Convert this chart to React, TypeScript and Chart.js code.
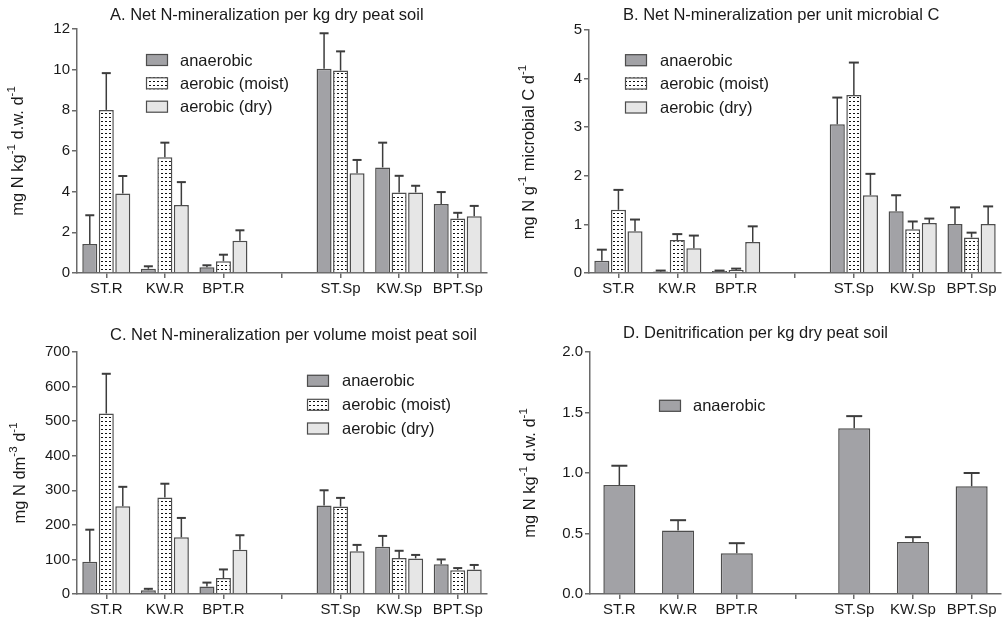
import React, { useEffect, useRef } from 'react';
import { Chart, registerables } from 'chart.js';
Chart.register(...registerables);

// ---------- data ----------
const categories = ['ST.R', 'KW.R', 'BPT.R', '', 'ST.Sp', 'KW.Sp', 'BPT.Sp'];
const seriesNames = ['anaerobic', 'aerobic (moist)', 'aerobic (dry)'];

// A. Net N-mineralization per kg dry peat soil
const aAnaerobic = [1.43, 0.21, 0.28, null, 10.04, 5.19, 3.39];
const aAnaerobicErr = [1.41, 0.12, 0.10, null, 1.75, 1.22, 0.59];
const aMoist = [8.02, 5.69, 0.58, null, 9.96, 3.96, 2.68];
const aMoistErr = [1.81, 0.72, 0.32, null, 0.94, 0.82, 0.28];
const aDry = [3.91, 3.34, 1.58, null, 4.90, 3.96, 2.79];
const aDryErr = [0.86, 1.13, 0.52, null, 0.66, 0.33, 0.51];

// B. Net N-mineralization per unit microbial C
const bAnaerobic = [0.25, 0.03, 0.04, null, 3.06, 1.27, 1.01];
const bAnaerobicErr = [0.23, 0.02, 0.01, null, 0.55, 0.33, 0.34];
const bMoist = [1.30, 0.68, 0.06, null, 3.66, 0.90, 0.73];
const bMoistErr = [0.41, 0.12, 0.03, null, 0.67, 0.16, 0.10];
const bDry = [0.86, 0.51, 0.64, null, 1.60, 1.03, 1.01];
const bDryErr = [0.24, 0.26, 0.32, null, 0.44, 0.09, 0.36];

// C. Net N-mineralization per volume moist peat soil
const cAnaerobic = [93, 11, 22, null, 256, 137, 86];
const cAnaerobicErr = [93, 4, 11, null, 44, 31, 14];
const cMoist = [522, 279, 46, null, 253, 104, 69];
const cMoistErr = [115, 40, 25, null, 25, 21, 6];
const cDry = [254, 164, 128, null, 124, 103, 71];
const cDryErr = [56, 56, 42, null, 18, 10, 13];

// D. Denitrification per kg dry peat soil
const dAnaerobic = [0.90, 0.525, 0.336, null, 1.37, 0.43, 0.89];
const dAnaerobicErr = [0.16, 0.085, 0.084, null, 0.10, 0.04, 0.11];

// axis ranges / tick labels
const yTicksA = [0, 2, 4, 6, 8, 10, 12];
const yTicksB = [0, 1, 2, 3, 4, 5];
const yTicksC = [0, 100, 200, 300, 400, 500, 600, 700];
const yTicksD = ['0.0', '0.5', '1.0', '1.5', '2.0'];

// ---------- styles ----------
const FONT = '"Liberation Sans", Arial, Helvetica, sans-serif';
const TEXT = '#1a1a1a';
const AXIS = '#6a6a6a';
const BORDER = '#4d4d4d';
const ERR = '#3c3c3c';
const C_AN = '#a2a2a6';
const C_DRY = '#e6e6e6';
const X_AXIS_H = 30;

type Part = { t: string; sup?: boolean };

function makePattern(): CanvasPattern {
  const c = document.createElement('canvas');
  c.width = 4;
  c.height = 4;
  const g = c.getContext('2d')!;
  g.fillStyle = '#ffffff';
  g.fillRect(0, 0, 4, 4);
  g.fillStyle = '#111111';
  g.fillRect(1, 1, 2, 1);
  return g.createPattern(c, 'repeat')!;
}

function decoPlugin(spec: any) {
  return {
    id: 'deco',
    afterDatasetsDraw(chart: any) {
      const ctx = chart.ctx as CanvasRenderingContext2D;
      const ys = chart.scales.y;
      spec.series.forEach((s: any, di: number) => {
        const meta = chart.getDatasetMeta(di);
        meta.data.forEach((el: any, j: number) => {
          const v = s.values[j];
          const e = s.errors[j];
          if (v == null || e == null) return;
          const top = ys.getPixelForValue(v + e);
          const x = el.x;
          ctx.save();
          ctx.strokeStyle = ERR;
          ctx.lineWidth = 1.5;
          ctx.beginPath();
          ctx.moveTo(x, el.y);
          ctx.lineTo(x, top);
          ctx.stroke();
          ctx.lineWidth = 2;
          ctx.beginPath();
          ctx.moveTo(x - spec.cap / 2, top);
          ctx.lineTo(x + spec.cap / 2, top);
          ctx.stroke();
          ctx.restore();
        });
      });
    },
    afterDraw(chart: any) {
      const ctx = chart.ctx as CanvasRenderingContext2D;
      ctx.save();
      // title
      ctx.fillStyle = TEXT;
      ctx.font = `16.5px ${FONT}`;
      ctx.textBaseline = 'middle';
      ctx.textAlign = 'left';
      ctx.fillText(spec.title, spec.titleX, spec.titleY);

      // y axis title with superscripts
      const parts: Part[] = spec.yTitle;
      const big = `16.5px ${FONT}`;
      const small = `11.5px ${FONT}`;
      let total = 0;
      parts.forEach((p) => {
        ctx.font = p.sup ? small : big;
        total += ctx.measureText(p.t).width;
      });
      ctx.save();
      ctx.translate(spec.yTitleX, spec.yTitleY);
      ctx.rotate(-Math.PI / 2);
      ctx.textAlign = 'left';
      ctx.textBaseline = 'alphabetic';
      let cx = -total / 2;
      parts.forEach((p) => {
        ctx.font = p.sup ? small : big;
        ctx.fillText(p.t, cx, p.sup ? -2 : 6);
        cx += ctx.measureText(p.t).width;
      });
      ctx.restore();

      // legend
      ctx.textAlign = 'left';
      ctx.textBaseline = 'middle';
      ctx.font = `16.5px ${FONT}`;
      spec.series.forEach((s: any, i: number) => {
        const ds = chart.data.datasets[i];
        const cy = spec.legendY[i];
        ctx.fillStyle = ds.backgroundColor;
        ctx.fillRect(spec.legendX, cy - 6, 22, 12);
        ctx.strokeStyle = BORDER;
        ctx.lineWidth = 1.2;
        ctx.strokeRect(spec.legendX + 0.5, cy - 5.5, 21, 11);
        ctx.fillStyle = TEXT;
        ctx.fillText(s.name, spec.legendTextX, cy + 1);
      });
      ctx.restore();
    },
  };
}

function Panel({ spec }: { spec: any }) {
  const ref = useRef<HTMLCanvasElement>(null);
  useEffect(() => {
    const canvas = ref.current!;
    const pattern = makePattern();
    const fills: any[] = [C_AN, pattern, C_DRY];
    const datasets = spec.series.map((s: any) => ({
      label: s.name,
      data: s.values,
      backgroundColor: fills[s.style],
      borderColor: BORDER,
      borderWidth: 1.5,
      borderSkipped: 'start',
      categoryPercentage: spec.catPct,
      barPercentage: spec.barPct,
    }));
    const chart = new Chart(canvas, {
      type: 'bar',
      data: { labels: categories, datasets },
      options: {
        responsive: false,
        animation: false,
        devicePixelRatio: 1,
        layout: {
          padding: {
            left: 0,
            top: spec.area.top,
            right: spec.w - spec.area.right,
            bottom: spec.h - spec.area.bottom - X_AXIS_H,
          },
        },
        plugins: {
          legend: { display: false },
          tooltip: { enabled: false },
          title: { display: false },
        },
        scales: {
          x: {
            type: 'category',
            offset: true,
            grid: {
              display: true,
              offset: false,
              drawOnChartArea: false,
              drawTicks: true,
              tickLength: 5,
              color: AXIS,
              lineWidth: 1.5,
            },
            border: { display: true, color: AXIS, width: 1.5 },
            ticks: {
              font: { family: FONT, size: 15 },
              color: TEXT,
              padding: 2,
              autoSkip: false,
              maxRotation: 0,
              minRotation: 0,
            },
            afterFit: (s: any) => {
              s.height = X_AXIS_H;
            },
          },
          y: {
            type: 'linear',
            min: spec.yMin,
            max: spec.yMax,
            grid: {
              display: true,
              drawOnChartArea: false,
              drawTicks: true,
              tickLength: 5,
              color: AXIS,
              lineWidth: 1.5,
            },
            border: { display: true, color: AXIS, width: 1.5 },
            ticks: {
              stepSize: spec.yStep,
              font: { family: FONT, size: 15 },
              color: TEXT,
              padding: 2,
              callback: (v: any, i: number) => spec.yLabels[i] ?? String(v),
            },
            afterFit: (s: any) => {
              s.width = spec.area.left;
            },
          },
        },
      },
      plugins: [decoPlugin(spec)],
    } as any);
    return () => chart.destroy();
  }, []);
  return (
    <canvas
      ref={ref}
      width={spec.w}
      height={spec.h}
      style={{ position: 'absolute', left: spec.x, top: spec.y, width: spec.w, height: spec.h }}
    />
  );
}

const panelA = {
  x: 0, y: 0, w: 500, h: 310,
  area: { left: 77, top: 29, right: 487, bottom: 273 },
  yMin: 0, yMax: 12, yStep: 2, yLabels: yTicksA.map(String),
  catPct: 0.845, barPct: 0.91, cap: 9,
  title: 'A. Net N-mineralization per kg dry peat soil', titleX: 110, titleY: 15,
  yTitle: [{ t: 'mg N kg' }, { t: '-1', sup: true }, { t: ' d.w. d' }, { t: '-1', sup: true }],
  yTitleX: 17, yTitleY: 151,
  legendX: 146, legendY: [60, 83.3, 106.7], legendTextX: 180,
  series: [
    { name: seriesNames[0], style: 0, values: aAnaerobic, errors: aAnaerobicErr },
    { name: seriesNames[1], style: 1, values: aMoist, errors: aMoistErr },
    { name: seriesNames[2], style: 2, values: aDry, errors: aDryErr },
  ],
};

const panelB = {
  x: 500, y: 0, w: 502, h: 310,
  area: { left: 89, top: 30, right: 501, bottom: 273 },
  yMin: 0, yMax: 5, yStep: 1, yLabels: yTicksB.map(String),
  catPct: 0.845, barPct: 0.91, cap: 10,
  title: 'B. Net N-mineralization per unit microbial C', titleX: 123, titleY: 15,
  yTitle: [{ t: 'mg N g' }, { t: '-1', sup: true }, { t: ' microbial C d' }, { t: '-1', sup: true }],
  yTitleX: 28, yTitleY: 152,
  legendX: 125, legendY: [60.2, 83.5, 107.5], legendTextX: 160,
  series: [
    { name: seriesNames[0], style: 0, values: bAnaerobic, errors: bAnaerobicErr },
    { name: seriesNames[1], style: 1, values: bMoist, errors: bMoistErr },
    { name: seriesNames[2], style: 2, values: bDry, errors: bDryErr },
  ],
};

const panelC = {
  x: 0, y: 300, w: 500, h: 321,
  area: { left: 77, top: 52, right: 487, bottom: 294 },
  yMin: 0, yMax: 700, yStep: 100, yLabels: yTicksC.map(String),
  catPct: 0.845, barPct: 0.91, cap: 9,
  title: 'C. Net N-mineralization per volume moist peat soil', titleX: 110, titleY: 35.5,
  yTitle: [{ t: 'mg N dm' }, { t: '-3', sup: true }, { t: ' d' }, { t: '-1', sup: true }],
  yTitleX: 19, yTitleY: 173,
  legendX: 307, legendY: [80.8, 104.8, 128.5], legendTextX: 342,
  series: [
    { name: seriesNames[0], style: 0, values: cAnaerobic, errors: cAnaerobicErr },
    { name: seriesNames[1], style: 1, values: cMoist, errors: cMoistErr },
    { name: seriesNames[2], style: 2, values: cDry, errors: cDryErr },
  ],
};

const panelD = {
  x: 500, y: 300, w: 502, h: 321,
  area: { left: 90, top: 52, right: 501, bottom: 294 },
  yMin: 0, yMax: 2, yStep: 0.5, yLabels: yTicksD,
  catPct: 0.6, barPct: 0.91, cap: 16,
  title: 'D. Denitrification per kg dry peat soil', titleX: 123, titleY: 33,
  yTitle: [{ t: 'mg N kg' }, { t: '-1', sup: true }, { t: ' d.w. d' }, { t: '-1', sup: true }],
  yTitleX: 29, yTitleY: 173,
  legendX: 159, legendY: [105.8], legendTextX: 193,
  series: [{ name: seriesNames[0], style: 0, values: dAnaerobic, errors: dAnaerobicErr }],
};

export default function App() {
  return (
    <div style={{ position: 'absolute', left: 0, top: 0, width: 1002, height: 621, background: '#ffffff' }}>
      <Panel spec={panelA} />
      <Panel spec={panelB} />
      <Panel spec={panelC} />
      <Panel spec={panelD} />
    </div>
  );
}
